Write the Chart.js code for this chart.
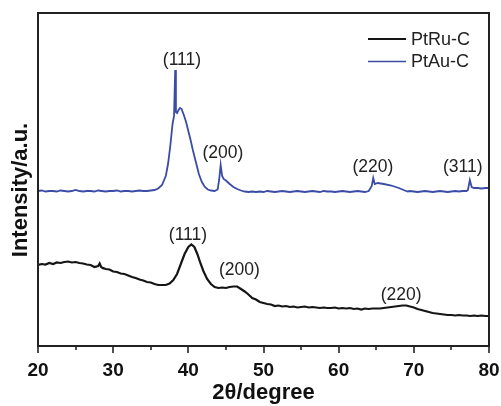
<!DOCTYPE html>
<html>
<head>
<meta charset="utf-8">
<script src="https://cdn.jsdelivr.net/npm/chart.js@4/dist/chart.umd.min.js"></script>
<style>
  html, body { margin: 0; padding: 0; background: #fff; }
  #wrap { width: 501px; height: 406px; }
</style>
</head>
<body>
<div id="wrap"><canvas id="c" width="501" height="406"></canvas></div>
<script>
// ---- Data (arbitrary intensity units) ----
const seriesNames = ['PtRu-C', 'PtAu-C'];
const seriesColors = ['#151515', '#3a4ca6'];

const ptruX = [20,20.5,21,21.5,22,22.5,23,23.5,24,24.5,25,25.5,26,26.5,27,27.5,28,28.2,28.4,28.5,29,29.5,30,30.5,31,31.5,32,32.5,33,33.5,34,34.5,35,35.5,36,36.5,37,37.5,38,38.5,39,39.5,40,40.4,40.8,41.2,41.6,42,42.5,43,43.5,44,44.5,45,45.5,46,46.5,47,47.5,48,48.5,49,49.5,50,50.5,51,51.5,52,52.5,53,53.5,54,54.5,55,55.5,56,56.5,57,57.5,58,58.5,59,59.5,60,60.5,61,61.5,62,62.5,63,63.5,64,64.5,65,65.5,66,66.5,67,67.5,68,68.5,69,69.5,70,70.5,71,71.5,72,72.5,73,73.5,74,74.5,75,75.5,76,76.5,77,77.5,78,78.5,79,79.5,80];
const ptruY = [81,82,81.5,83,82,83.5,83,84,84.5,83.5,84,83,82.5,81.5,81,79,80,82.5,79,78.5,77,76.5,74.5,74,72.5,72,70.5,69,68,66.5,65.5,64,63.5,62,61,61,61,62.5,66,72,82,92,99,101.5,99,92,83,75,67,62,59,58,58.5,58,59,59.5,59.5,57,54.5,51.5,48,46.5,44,43,42,41.5,40,40.5,39.5,40,39,39.5,38.5,39,39.5,38.5,39,38.5,38,38.5,38,38,38.5,37.5,38,37.5,38,37,37.5,36.5,37.5,37,37.5,37.5,37.5,38,38.5,39,39.5,40,40.5,40.5,39.5,38.5,37,36,35,34,33,32.5,32,31.5,31,31,30.5,31,30.5,30.5,30,30.5,30,30.5,30,30];

const ptauX = [20,20.5,21,21.5,22,22.5,23,23.5,24,24.5,25,25.5,26,26.5,27,27.5,28,28.5,29,29.5,30,30.5,31,31.5,32,32.5,33,33.5,34,34.5,35,35.5,36,36.5,37,37.3,37.6,37.9,38.1,38.25,38.35,38.5,38.7,38.9,39.1,39.4,39.7,40,40.3,40.6,41,41.4,41.8,42.2,42.6,43,43.5,43.9,44.1,44.3,44.5,44.7,45,45.5,46,46.5,47,47.5,48,48.5,49,49.5,50,50.5,51,51.5,52,52.5,53,53.5,54,54.5,55,55.5,56,56.5,57,57.5,58,58.5,59,59.5,60,60.5,61,61.5,62,62.5,63,63.5,64,64.4,64.6,64.8,65.2,66,67,68,68.8,69.2,69.5,70,70.5,71,71.5,72,72.5,73,73.5,74,74.5,75,75.5,76,76.5,77,77.2,77.45,77.7,78,78.5,79,79.5,80];
const ptauY = [155,155.5,154.5,155,155,154.5,155.5,155,154.5,155,156,155,154.5,155,155,154.5,155.5,155,154.5,155,155,155.5,154.5,155,155,154.5,155,155.5,155,155,155.5,156,157.5,161,170,182,200,222,230,276,234,233,236,238,237,231,224,215,206,196,184,172,164,159,156.5,155.5,155,156.5,166,181,170,167,165.5,162,159,157,155.5,154.5,154,154.5,154,154.5,154,155,154.5,154,154.5,155,154.5,154,154.5,155,154.5,154,154.5,155,154.5,154,155,154.5,154.5,154,154.5,155,154.5,154,154.5,155,154.5,154,155,160,168,162,163,162,160.5,158,155.5,154.5,155,154.5,154,154.5,155,154.5,154,154.5,155,154.5,154,154.5,155,154.5,155,155,156,166,159,158,158,157.5,158,158];

const xTickValues = [20,25,30,35,40,45,50,55,60,65,70,75,80];
const xLabelValues = [20,30,40,50,60,70,80];

// Peak annotations: [series index, 2theta, intensity, text]
const peakSeries = [1,1,1,1,0,0,0];
const peakX = [39.15,44.6,64.55,76.5,39.95,46.8,68.3];
const peakY = [286,193,179,179,111,76,51];
const peakText = ['(111)','(200)','(220)','(311)','(111)','(200)','(220)'];

const axisTitleX = '2\u03b8/degree';
const axisTitleY = 'Intensity/a.u.';

// ---- Build datasets ----
function pts(xs, ys) { return xs.map((x, i) => ({ x: x, y: ys[i] })); }

const decor = {
  id: 'decor',
  afterDraw(chart) {
    const { ctx, chartArea: a, scales } = chart;
    const xs = scales.x, ys = scales.y;
    ctx.save();
    // frame
    ctx.strokeStyle = '#222';
    ctx.lineWidth = 2;
    ctx.strokeRect(a.left, a.top, a.right - a.left, a.bottom - a.top);
    // outward ticks on bottom axis
    ctx.lineWidth = 1.6;
    xTickValues.forEach(v => {
      const px = Math.round(xs.getPixelForValue(v));
      const len = (v % 10 === 0) ? 7 : 4;
      ctx.beginPath();
      ctx.moveTo(px, a.bottom);
      ctx.lineTo(px, a.bottom + len);
      ctx.stroke();
    });
    // peak labels
    ctx.fillStyle = '#222';
    ctx.font = '17.5px Arial, "Liberation Sans", sans-serif';
    ctx.textAlign = 'center';
    ctx.textBaseline = 'middle';
    peakText.forEach((t, i) => {
      ctx.fillText(t, xs.getPixelForValue(peakX[i]), ys.getPixelForValue(peakY[i]));
    });
    // legend
    ctx.font = '18px Arial, "Liberation Sans", sans-serif';
    ctx.textAlign = 'left';
    ctx.textBaseline = 'middle';
    seriesNames.forEach((n, i) => {
      const y = 39 + i * 22.5;
      ctx.strokeStyle = seriesColors[i];
      ctx.lineWidth = i === 0 ? 2 : 1.5;
      ctx.beginPath();
      ctx.moveTo(368, y);
      ctx.lineTo(406, y);
      ctx.stroke();
      ctx.fillStyle = '#222';
      ctx.fillText(n, 411, y + 1);
    });
    // y axis title
    ctx.save();
    ctx.translate(21, 190);
    ctx.rotate(-Math.PI / 2);
    ctx.font = 'bold 22px Arial, "Liberation Sans", sans-serif';
    ctx.textAlign = 'center';
    ctx.textBaseline = 'middle';
    ctx.fillStyle = '#111';
    ctx.fillText(axisTitleY, 0, 0);
    ctx.restore();
    ctx.restore();
  }
};

new Chart(document.getElementById('c'), {
  type: 'line',
  data: {
    datasets: [
      { label: seriesNames[0], data: pts(ptruX, ptruY), borderColor: seriesColors[0], borderWidth: 2.2, pointRadius: 0, tension: 0, fill: false },
      { label: seriesNames[1], data: pts(ptauX, ptauY), borderColor: seriesColors[1], borderWidth: 1.8, pointRadius: 0, tension: 0, fill: false }
    ]
  },
  options: {
    responsive: false,
    animation: false,
    devicePixelRatio: 1,
    layout: { padding: { top: 13, right: 12, left: 0, bottom: 0 } },
    plugins: { legend: { display: false }, tooltip: { enabled: false } },
    scales: {
      x: {
        type: 'linear', min: 20, max: 80,
        grid: { display: false },
        border: { display: false },
        afterBuildTicks: s => { s.ticks = xTickValues.map(v => ({ value: v })); },
        ticks: {
          autoSkip: false, maxRotation: 0, padding: 5,
          color: '#111',
          font: { family: 'Arial, "Liberation Sans", sans-serif', size: 19, weight: 'bold' },
          callback: v => xLabelValues.includes(v) ? String(v) : ''
        },
        title: {
          display: true, text: axisTitleX, color: '#111',
          font: { family: 'Arial, "Liberation Sans", sans-serif', size: 22, weight: 'bold' },
          padding: { top: 0, bottom: 0 }
        },
        afterFit: s => { s.height = 60; s.paddingLeft = 0; s.paddingRight = 0; }
      },
      y: {
        min: 0, max: 333,
        grid: { display: false },
        border: { display: false },
        ticks: { display: false },
        afterFit: s => { s.width = 38; }
      }
    }
  },
  plugins: [decor]
});
</script>
</body>
</html>
